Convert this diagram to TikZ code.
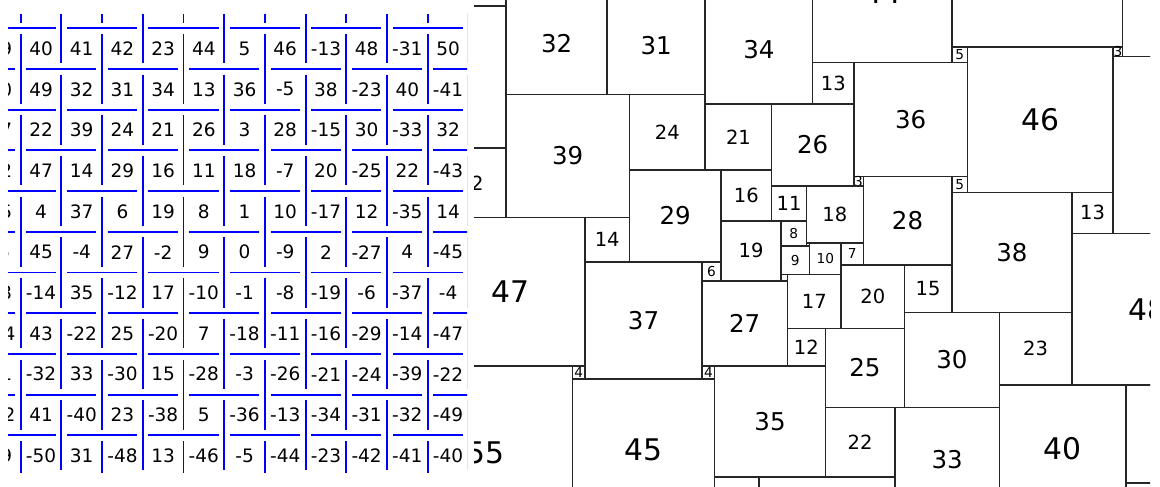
\documentclass[tikz,border=0pt]{standalone}
\usepackage{fontspec}
\setmainfont{DejaVu Sans}
\newcommand\sqfont[1]{\ifnum#1<11 \fontsize{13.7}{14}\selectfont\else\ifnum#1<25 \fontsize{19.5}{20}\selectfont\else\ifnum#1<40 \fontsize{24.5}{25}\selectfont\else\fontsize{29.8}{30}\selectfont\fi\fi\fi}

\begin{document}
\begin{tikzpicture}[x=1pt,y=-1pt,
  wall/.style={draw=blue,line width=1.9pt},
  tile/.style={draw=black!85,line width=1.5pt},
  cellnum/.style={inner sep=0pt,font=\fontsize{18.5}{20}\selectfont},
  sqnum/.style={inner sep=0pt,font=\sqfont{#1}}
]
  \useasboundingbox (0,0) rectangle (1160,487);

  % left: numbered lattice with broken walls
  \begin{scope}
    \clip (8,15) rectangle (467,472);
    \begin{scope}[xshift=20.7pt,yshift=-28.3pt,x=40.7pt,y=-40.7pt]
      \def\gp{0.14}
      \foreach \j in {-1,...,12}{
        \pgfmathtruncatemacro\o{iseven(\j)}
        \foreach \m in {-1,...,6}
          \draw[wall] ({2*\m+\o-2+\gp},\j) -- ({2*\m+\o-\gp},\j);
      }
      \foreach \i in {-1,...,12}{
        \pgfmathtruncatemacro\o{isodd(\i)}
        \foreach \m in {-1,...,6}
          \draw[wall] (\i,{2*\m+\o-2+\gp}) -- (\i,{2*\m+\o-\gp});
      }
      \foreach \c in {-1,...,10}
        \foreach \r in {0,...,10}{
          \pgfmathtruncatemacro\val{iseven(\c+\r) ? (\c-5)+9*(5-\r) : (5-\r)-9*(\c-5)}
          \node[cellnum] (n\c-\r) at (\c+0.5,\r+0.5) {\val};
        }
    \end{scope}
  \end{scope}

  % right: squared tiling
  \begin{scope}
    \clip (474,0) rectangle (1150,487);
    \begin{scope}[xshift=506pt,yshift=-94.3pt,x=3.162pt,y=-3.162pt]
      \foreach \u/\v/\s in {0/-32/32, 32/-31/31, 63/-31/34, 97/-54/44, 141/-69/54,
          97/-10/13, 141/-15/5, 192/-15/3, 146/-15/46, 192/-12/56, 110/-10/36,
          -22/17/22, 0/0/39, 39/0/24, 63/3/21, 84/3/26, 110/26/3, 141/26/5,
          113/26/28, 84/29/11, 95/29/18, 68/24/16, 39/24/29, 25/39/14,
          -22/39/47, 68/40/19, 87/40/8, 95/47/1, 87/48/9, 96/47/10, 106/47/7,
          62/53/6, 25/53/37, 87/57/2, 89/57/17, 106/54/20, 126/54/15,
          141/31/38, 179/31/13, 179/44/48, 62/59/27, 89/74/12, 101/74/25,
          126/69/30, 156/69/23, 21/86/4, 62/86/4, -34/86/55, 21/90/45,
          66/86/35, 101/99/22, 123/99/33, 156/92/40}{
        \draw[tile] (\u,\v) rectangle ++(\s,\s);
        \ifnum\s>2 \node[sqnum=\s] (sq\u-\v) at (\u+\s/2,\v+\s/2) {\s};\fi
      }
      % squares cut by the frame
      \foreach \u/\v/\s in {-45/-28/45, 195/-72/60, 196/92/31, 66/121/14, 80/121/43}
        \draw[tile] (\u,\v) rectangle ++(\s,\s);
    \end{scope}
  \end{scope}
\end{tikzpicture}
\end{document}
